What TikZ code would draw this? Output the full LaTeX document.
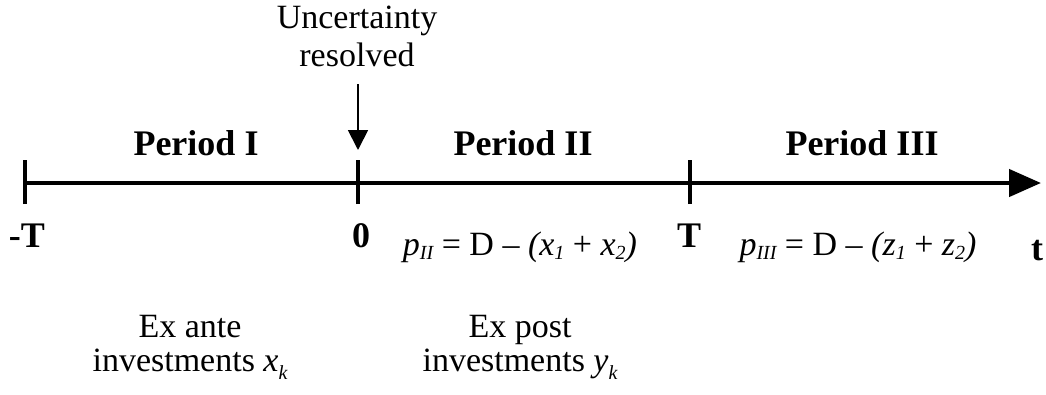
\documentclass[tikz,border=0pt]{standalone}
\usepackage{fontspec}
\setmainfont{Liberation Serif}
\usetikzlibrary{arrows.meta}

\newcommand{\sbs}[1]{\raisebox{-4pt}{\fontsize{20}{20}\selectfont\itshape #1}}
\newcommand{\sbk}[1]{\raisebox{-8pt}{\fontsize{20}{20}\selectfont\itshape #1}}

\begin{document}
\begin{tikzpicture}[x=1pt, y=-1pt, >={Triangle[length=20pt,width=20pt]}]
\tikzset{
  lbl/.style={anchor=base, inner sep=0pt, font=\fontsize{34}{40}\selectfont},
  bold/.style={lbl, font=\fontsize{36}{40}\selectfont\bfseries},
  tick/.style={line width=4.5pt}
}

\useasboundingbox (0,0) rectangle (1046,394);

% Points on the time line
\coordinate (mT) at (25,183);
\coordinate (zero) at (358,183);
\coordinate (T) at (690,183);
\coordinate (tend) at (1041,183);

% Time line
\draw[line width=4.5pt, -{Triangle[length=32pt,width=27pt]}] (mT) -- (tend);

% Ticks
\foreach \p in {mT,zero,T}
{
\draw[tick] ([yshift=-21pt]\p) -- ([yshift=23pt]\p);
}

% Uncertainty arrow
\node[lbl] (unc) at (357,28) {Uncertainty};
\node[lbl] (res) at (357,66) {resolved};
\coordinate (hit) at (358,150);
\draw[->, line width=1.8pt] (358,84) -- (hit);

% Period labels
\node[bold] (p1) at (196,155) {Period I};
\node[bold] (p2) at (523,155) {Period II};
\node[bold] (p3) at (862,155) {Period III};

% Time labels
\node[bold] (lmT) at (27,247) {-T};
\node[bold] (l0) at (361,247) {0};
\node[bold] (lT) at (689,247) {T};
\node[bold] (lt) at (1037,260) {t};

% Prices
\node[lbl] (pII) at (520,255) {\textit{p}\sbs{II} = D \textendash\ \textit{(x}\sbs{1} + \textit{x}\sbs{2}\textit{)}};
\node[lbl] (pIII) at (858,255) {\textit{p}\sbs{III} = D \textendash\ \textit{(z}\sbs{1} + \textit{z}\sbs{2}\textit{)}};

% Investments
\node[lbl] (ea) at (190,337) {Ex ante};
\node[lbl] (xk) at (190,371) {investments \textit{x}\sbk{k}};
\node[lbl] (ep) at (520,337) {Ex post};
\node[lbl] (yk) at (520,371) {investments \textit{y}\sbk{k}};

\end{tikzpicture}
\end{document}
